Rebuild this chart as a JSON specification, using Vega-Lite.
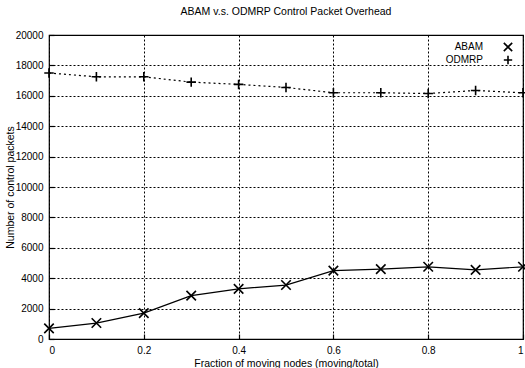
{
  "$schema": "https://vega.github.io/schema/vega-lite/v6.json",
  "width": 474,
  "height": 304,
  "autosize": {"type": "none"},
  "padding": {"left": 49, "top": 35, "right": 2, "bottom": 29},
  "background": "white",
  "config": {
    "font": "Liberation Sans",
    "view": {"stroke": "black", "strokeWidth": 1.2},
    "axis": {
      "domain": false,
      "grid": true,
      "gridColor": "black",
      "gridDash": [2, 2],
      "gridOpacity": 1,
      "gridWidth": 1,
      "ticks": true,
      "tickSize": -5,
      "tickColor": "black",
      "tickWidth": 1.2,
      "labelColor": "black",
      "labelFontSize": 10,
      "labelFont": "Liberation Sans",
      "titleColor": "black",
      "titleFontSize": 10.5,
      "titleFontWeight": "normal"
    }
  },
  "title": {
    "text": "ABAM v.s. ODMRP Control Packet Overhead",
    "fontSize": 10.5,
    "fontWeight": "normal",
    "color": "black",
    "offset": 13
  },
  "data": {
    "values": [
      {"frac": 0.0, "series": "ABAM", "packets": 700},
      {"frac": 0.1, "series": "ABAM", "packets": 1050},
      {"frac": 0.2, "series": "ABAM", "packets": 1700},
      {"frac": 0.3, "series": "ABAM", "packets": 2850},
      {"frac": 0.4, "series": "ABAM", "packets": 3300},
      {"frac": 0.5, "series": "ABAM", "packets": 3550},
      {"frac": 0.6, "series": "ABAM", "packets": 4500},
      {"frac": 0.7, "series": "ABAM", "packets": 4600},
      {"frac": 0.8, "series": "ABAM", "packets": 4750},
      {"frac": 0.9, "series": "ABAM", "packets": 4550},
      {"frac": 1.0, "series": "ABAM", "packets": 4750},
      {"frac": 0.0, "series": "ODMRP", "packets": 17500},
      {"frac": 0.1, "series": "ODMRP", "packets": 17250},
      {"frac": 0.2, "series": "ODMRP", "packets": 17250},
      {"frac": 0.3, "series": "ODMRP", "packets": 16900},
      {"frac": 0.4, "series": "ODMRP", "packets": 16750},
      {"frac": 0.5, "series": "ODMRP", "packets": 16550},
      {"frac": 0.6, "series": "ODMRP", "packets": 16200},
      {"frac": 0.7, "series": "ODMRP", "packets": 16200},
      {"frac": 0.8, "series": "ODMRP", "packets": 16150},
      {"frac": 0.9, "series": "ODMRP", "packets": 16350},
      {"frac": 1.0, "series": "ODMRP", "packets": 16200}
    ]
  },
  "encoding": {
    "x": {
      "field": "frac",
      "type": "quantitative",
      "scale": {"domain": [0, 1], "nice": false},
      "axis": {"values": [0, 0.2, 0.4, 0.6, 0.8, 1], "format": "~g", "title": "Fraction of moving nodes (moving/total)", "labelPadding": 11, "titlePadding": 3}
    },
    "y": {
      "field": "packets",
      "type": "quantitative",
      "scale": {"domain": [0, 20000], "nice": false},
      "axis": {"values": [0, 2000, 4000, 6000, 8000, 10000, 12000, 14000, 16000, 18000, 20000], "format": "d", "title": "Number of control packets", "labelPadding": 11, "titlePadding": 0}
    }
  },
  "layer": [
    {
      "transform": [{"filter": "datum.series === 'ABAM'"}],
      "mark": {"type": "line", "color": "black", "strokeWidth": 1.2},
      "encoding": {}
    },
    {
      "transform": [{"filter": "datum.series === 'ODMRP'"}],
      "mark": {"type": "line", "color": "black", "strokeWidth": 1.2, "strokeDash": [2, 3]},
      "encoding": {}
    },
    {
      "mark": {"type": "point", "filled": false, "color": "black", "strokeWidth": 1.6, "size": 90, "opacity": 1},
      "encoding": {
        "shape": {
          "field": "series",
          "type": "nominal",
          "title": null,
          "scale": {"domain": ["ABAM", "ODMRP"], "range": ["M-1,-1L1,1M-1,1L1,-1", "M-1,0L1,0M0,-1L0,1"]},
          "legend": {
            "title": null,
            "orient": "top-right",
            "offset": 7,
            "padding": 0,
            "labelFontSize": 10,
            "labelColor": "black",
            "labelAlign": "right",
            "labelOffset": -30,
            "symbolStrokeColor": "black",
            "symbolStrokeWidth": 1.6,
            "symbolSize": 70,
            "rowPadding": -5
          }
        }
      }
    }
  ]
}
